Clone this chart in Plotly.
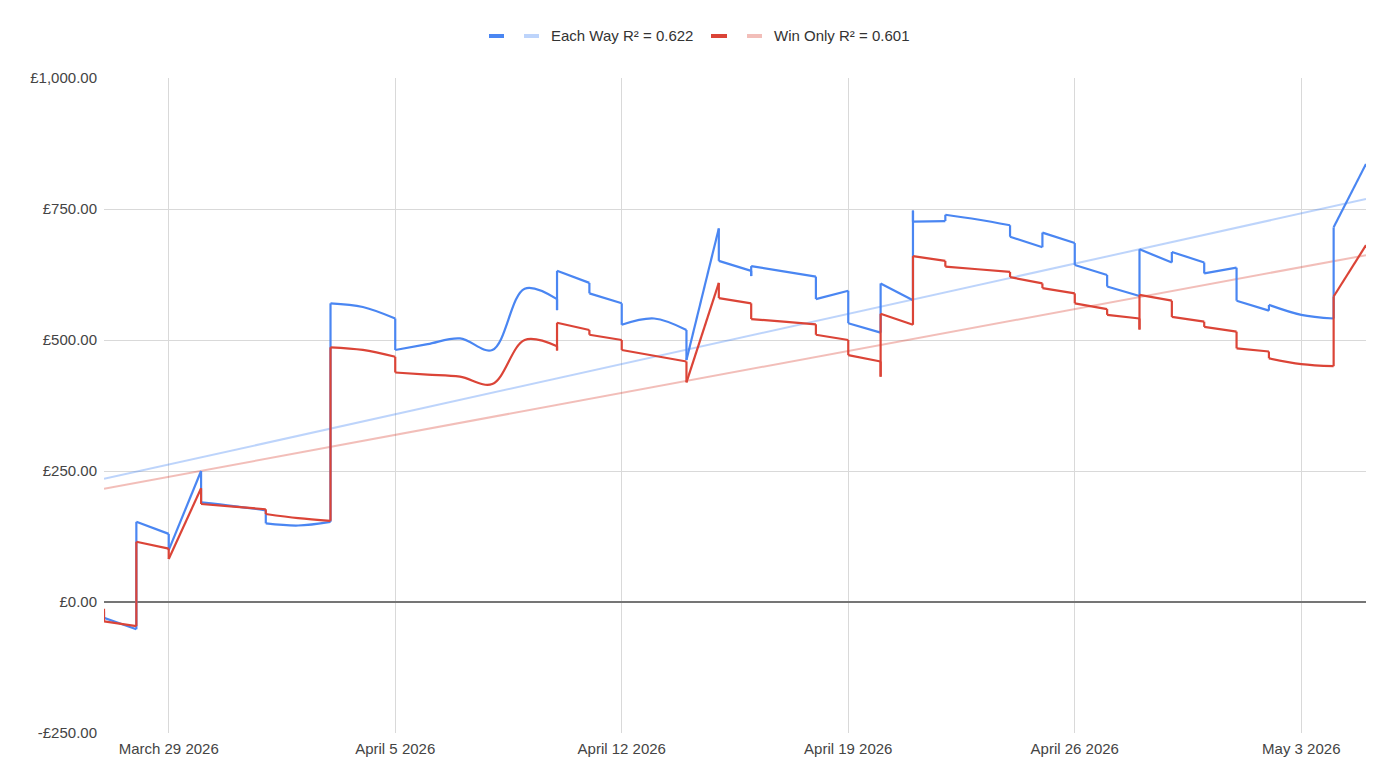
import plotly.graph_objects as go

# ---- data ----
days = ["2026-03-27", "2026-03-28", "2026-03-29", "2026-03-30", "2026-03-31",
        "2026-04-01", "2026-04-02", "2026-04-03", "2026-04-04", "2026-04-05",
        "2026-04-06", "2026-04-07", "2026-04-08", "2026-04-09", "2026-04-10",
        "2026-04-11", "2026-04-12", "2026-04-13", "2026-04-14", "2026-04-15",
        "2026-04-16", "2026-04-17", "2026-04-18", "2026-04-19", "2026-04-20",
        "2026-04-21", "2026-04-22", "2026-04-23", "2026-04-24", "2026-04-25",
        "2026-04-26", "2026-04-27", "2026-04-28", "2026-04-29", "2026-04-30",
        "2026-05-01", "2026-05-02", "2026-05-03", "2026-05-04", "2026-05-05"]

# several results can fall on one day -> vertical steps
each_way = [[-18, -30], [-52, 153], [130, 99], [250, 190], [183],
            [175, 150], [146], [153, 570], [563], [541, 481],
            [492], [503], [481], [598], [578, 557, 632],
            [609, 589], [570, 529], [541], [519, 462], [713, 651],
            [632, 622, 641], [631], [621, 578], [594, 532], [514, 608],
            [576, 747, 726], [727, 739], [730], [719, 697], [677, 705],
            [685, 643], [624, 602], [584, 673], [648, 668], [648, 627],
            [638, 575], [556, 567], [548], [541, 715], [836]]

win_only = [[-13, -37], [-46, 115], [102, 82], [217, 187], [182],
            [177, 168], [160], [155, 486], [481], [468, 438],
            [434], [430], [416], [500], [488, 480, 533],
            [519, 510], [500, 481], [470], [459, 419], [609, 580],
            [570, 540], [535], [530, 510], [500, 471], [459, 430, 550],
            [529, 660], [651, 640], [635], [630, 620], [608, 599],
            [589, 570], [559, 548], [541, 520, 586], [575, 544], [535, 525],
            [516, 484], [478, 465], [454], [450, 583], [681]]

trend_x = ["2026-03-27", "2026-05-05"]
each_way_trend = [235, 769]
win_only_trend = [216, 662]

each_way_label = "Each Way R² = 0.622"
win_only_label = "Win Only R² = 0.601"

y_tick_vals = [-250, 0, 250, 500, 750, 1000]
y_tick_text = ["-£250.00", "£0.00", "£250.00", "£500.00", "£750.00", "£1,000.00"]
x_tick_vals = ["2026-03-29", "2026-04-05", "2026-04-12", "2026-04-19", "2026-04-26", "2026-05-03"]
x_tick_text = ["March 29 2026", "April 5 2026", "April 12 2026", "April 19 2026",
               "April 26 2026", "May 3 2026"]

BLUE = "#4a86f2"
RED = "#DB4437"
BLUE_T = "rgba(66,133,244,0.35)"
RED_T = "rgba(219,68,55,0.35)"
FONT = "Arial, Liberation Sans, sans-serif"


def flatten(day_list, vals):
    xs, ys = [], []
    for d, vs in zip(day_list, vals):
        for v in vs:
            xs.append(d)
            ys.append(v)
    return xs, ys


def add_series(fig, day_list, vals, color, name):
    xs, ys = flatten(day_list, vals)
    # smooth runs between days (spline), and same-day vertical steps (straight)
    runs = [[0]]
    vx, vy = [], []
    for i in range(1, len(xs)):
        if xs[i] == xs[i - 1]:
            vx += [xs[i - 1], xs[i], None]
            vy += [ys[i - 1], ys[i], None]
            runs.append([i])
        else:
            runs[-1].append(i)
    fig.add_trace(go.Scatter(x=vx, y=vy, mode="lines", name=name, legendgroup=name,
                             line=dict(color=color, width=2.2), showlegend=False,
                             hoverinfo="skip"))
    for r in runs:
        if len(r) < 2:
            continue
        fig.add_trace(go.Scatter(x=[xs[i] for i in r], y=[ys[i] for i in r],
                                 mode="lines", name=name, legendgroup=name,
                                 line=dict(color=color, width=2.2, shape="spline", smoothing=1),
                                 showlegend=False))


fig = go.Figure()
fig.add_trace(go.Scatter(x=trend_x, y=each_way_trend, mode="lines",
                         line=dict(color=BLUE_T, width=2), showlegend=False,
                         hoverinfo="skip"))
fig.add_trace(go.Scatter(x=trend_x, y=win_only_trend, mode="lines",
                         line=dict(color=RED_T, width=2), showlegend=False,
                         hoverinfo="skip"))
add_series(fig, days, each_way, BLUE, "Each Way")
add_series(fig, days, win_only, RED, "Win Only")

# ---- custom legend (swatches + text) ----
W, H = 1384, 770
ML, MR, MT, MB = 104, 18, 78, 37
PW, PH = W - ML - MR, H - MT - MB


def px(xp):
    return (xp - ML) / PW


def py(yp):
    return (H - MB - yp) / PH


swatches = [(489, 504, BLUE), (524, 539, BLUE_T), (711, 727, RED), (747, 762, RED_T)]
for x0, x1, c in swatches:
    fig.add_shape(type="rect", xref="paper", yref="paper",
                  x0=px(x0), x1=px(x1), y0=py(38), y1=py(34),
                  fillcolor=c, line=dict(width=0))
for xl, txt in [(549, each_way_label), (772, win_only_label)]:
    fig.add_annotation(xref="paper", yref="paper", x=px(xl), y=py(36),
                       xanchor="left", yanchor="middle", text=txt, showarrow=False,
                       font=dict(family=FONT, size=15, color="#333333"))

fig.update_layout(
    width=W, height=H,
    margin=dict(l=ML, r=MR, t=MT, b=MB),
    paper_bgcolor="white", plot_bgcolor="white",
    font=dict(family=FONT, size=15, color="#444444"),
    showlegend=False,
    xaxis=dict(range=["2026-03-27", "2026-05-05"], tickvals=x_tick_vals, ticktext=x_tick_text,
               showgrid=True, gridcolor="#d9d9d9", gridwidth=1, zeroline=False,
               showline=False, ticks="", ticklabelstandoff=5, fixedrange=True),
    yaxis=dict(range=[-250, 1000], tickvals=y_tick_vals, ticktext=y_tick_text,
               showgrid=True, gridcolor="#d9d9d9", gridwidth=1,
               zeroline=True, zerolinecolor="#757575", zerolinewidth=2,
               showline=False, ticks="", ticklabelstandoff=6, fixedrange=True),
)

fig.write_html("out.html", config={"displayModeBar": False},
               post_script="document.body.style.margin='0px';")
